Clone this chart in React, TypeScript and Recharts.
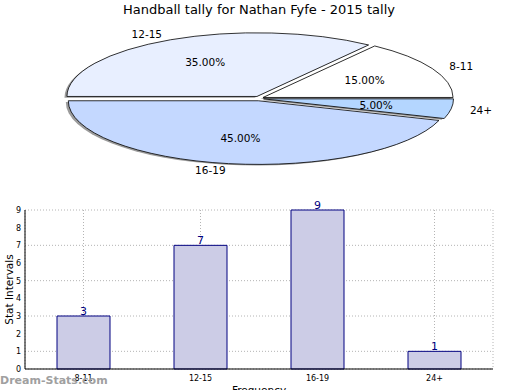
import { Bar, BarChart, CartesianGrid, LabelList, Pie, PieChart, XAxis, YAxis } from "recharts";

const groups = ["8-11", "12-15", "16-19", "24+"];
const counts = [3, 7, 9, 1];
const sliceColors = ["#ffffff", "#e8efff", "#c4d8ff", "#b4d6ff"];
const yTicks = [0, 1, 2, 3, 4, 5, 6, 7, 8, 9];

const pieData = groups.map((g, i) => ({ name: g, value: counts[i], fill: sliceColors[i] }));
const barData = groups.map((g, i) => ({ name: g, value: counts[i] }));

const FONT = "'DejaVu Sans', Verdana, sans-serif";
const RATIO = 0.335; // vertical squash of the pie
const EXPLODE_X = 0.024;
const EXPLODE_Y = 0.036;
const RAD = Math.PI / 180;

function wedgePath(p: any, dx0: number, dy0: number) {
  const rx = p.outerRadius;
  const ry = rx * RATIO;
  const mid = p.midAngle * RAD;
  const ox = p.cx + EXPLODE_X * rx * Math.cos(mid) + dx0;
  const oy = p.cy - EXPLODE_Y * ry * Math.sin(mid) + dy0;
  const s = p.startAngle * RAD;
  const e = p.endAngle * RAD;
  const x1 = ox + rx * Math.cos(s);
  const y1 = oy - ry * Math.sin(s);
  const x2 = ox + rx * Math.cos(e);
  const y2 = oy - ry * Math.sin(e);
  const large = Math.abs(p.endAngle - p.startAngle) > 180 ? 1 : 0;
  return `M${ox},${oy} L${x1},${y1} A${rx},${ry} 0 ${large} 0 ${x2},${y2} Z`;
}

const ShadowWedge = (p: any) => (
  <path d={wedgePath(p, -2.5, 1.2)} fill="#707070" fillOpacity={0.7} stroke="none" />
);

const Wedge = (p: any) => (
  <path d={wedgePath(p, 0, 0)} fill={p.fill} stroke="#000" strokeWidth={0.8} />
);

const renderPieLabel = (p: any) => {
  const rx = p.outerRadius;
  const ry = rx * RATIO;
  const mid = p.midAngle * RAD;
  const c = Math.cos(mid);
  const s = Math.sin(mid);
  const ox = p.cx + EXPLODE_X * rx * c;
  const oy = p.cy - EXPLODE_Y * ry * s;
  return (
    <g>
      <text
        x={ox + 1.1 * rx * c}
        y={oy - 1.1 * ry * s}
        textAnchor={c < 0 ? "end" : "start"}
        dominantBaseline="central"
        fontSize={10.5}
        fontFamily={FONT}
        fill="#000"
      >
        {p.name}
      </text>
      <text
        x={ox + 0.6 * rx * c}
        y={oy - 0.6 * ry * s}
        textAnchor="middle"
        dominantBaseline="central"
        fontSize={10.5}
        fontFamily={FONT}
        fill="#000"
      >
        {(p.percent * 100).toFixed(2) + "%"}
      </text>
    </g>
  );
};

// plot area runs from y=10 to y=169 inside the bar chart
const Y_LABEL_CY = 89.5;

const YLabel = () => (
  <text
    x={9}
    y={Y_LABEL_CY}
    transform={`rotate(-90, 9, ${Y_LABEL_CY})`}
    textAnchor="middle"
    dominantBaseline="central"
    fontSize={10.5}
    fontFamily={FONT}
    fill="#000"
  >
    Stat Intervals
  </text>
);

export default function App() {
  return (
    <div
      style={{
        position: "absolute",
        left: 0,
        top: 0,
        width: 520,
        height: 390,
        overflow: "hidden",
        background: "#fff",
        fontFamily: FONT
      }}
    >
      <div
        style={{
          position: "absolute",
          top: 2,
          left: 0,
          width: 518,
          textAlign: "center",
          fontSize: 13,
          color: "#000"
        }}
      >
        Handball tally for Nathan Fyfe - 2015 tally
      </div>

      <div style={{ position: "absolute", left: 0, top: 0 }}>
        <PieChart width={520} height={190} margin={{ top: 0, right: 0, bottom: 0, left: 0 }}>
          <Pie
            data={pieData}
            dataKey="value"
            nameKey="name"
            cx={259}
            cy={98.5}
            outerRadius={190}
            startAngle={0}
            endAngle={360}
            shape={ShadowWedge}
            activeShape={ShadowWedge}
            inactiveShape={ShadowWedge}
            label={false}
            labelLine={false}
            isAnimationActive={false}
          />
          <Pie
            data={pieData}
            dataKey="value"
            nameKey="name"
            cx={259}
            cy={98.5}
            outerRadius={190}
            startAngle={0}
            endAngle={360}
            shape={Wedge}
            activeShape={Wedge}
            inactiveShape={Wedge}
            label={renderPieLabel}
            labelLine={false}
            isAnimationActive={false}
          />
        </PieChart>
      </div>

      <div style={{ position: "absolute", left: 0, top: 200 }}>
        <BarChart
          width={520}
          height={200}
          data={barData}
          margin={{ top: 10, right: 27, bottom: 0, left: 0 }}
          barCategoryGap={0}
        >
          <CartesianGrid stroke="#b4b4b4" strokeDasharray="1 2" />
          <XAxis
            dataKey="name"
            height={31}
            axisLine={{ stroke: "#000" }}
            tickLine={false}
            tick={{ fontSize: 8, fill: "#000", fontFamily: FONT }}
            tickMargin={0}
            label={{
              value: "Frequency",
              position: "insideBottom",
              offset: 6,
              fontSize: 10.5,
              fill: "#000",
              fontFamily: FONT
            }}
          />
          <XAxis
            xAxisId="top"
            dataKey="name"
            orientation="top"
            height={0}
            axisLine={{ stroke: "#000" }}
            tick={false}
            tickLine={false}
          />
          <YAxis
            domain={[0, 9]}
            ticks={yTicks}
            width={25}
            axisLine={{ stroke: "#000" }}
            tickLine={false}
            tickSize={0}
            tickMargin={4}
            tick={{ fontSize: 8, fill: "#000", fontFamily: FONT }}
            label={<YLabel />}
          />
          <YAxis
            yAxisId="right"
            orientation="right"
            domain={[0, 9]}
            ticks={yTicks}
            width={0}
            mirror
            axisLine={{ stroke: "#000" }}
            tickSize={3}
            tickLine={{ stroke: "#000" }}
            tick={false}
          />
          <Bar
            dataKey="value"
            barSize={53}
            fill="#cccce6"
            stroke="#000080"
            strokeWidth={1}
            isAnimationActive={false}
          >
            <LabelList
              dataKey="value"
              position="top"
              offset={1}
              fill="#000080"
              fontSize={11}
              fontFamily={FONT}
            />
          </Bar>
        </BarChart>
      </div>

      <div
        style={{
          position: "absolute",
          left: 0,
          top: 374,
          fontSize: 11,
          fontWeight: "bold",
          color: "#a0a0a0",
          whiteSpace: "nowrap"
        }}
      >
        Dream-Stats.com
      </div>
    </div>
  );
}
